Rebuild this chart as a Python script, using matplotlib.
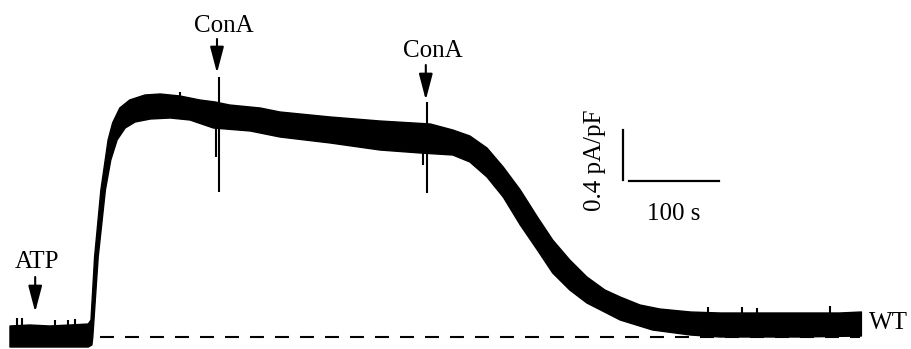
import matplotlib
matplotlib.use("Agg")
import matplotlib.pyplot as plt

plt.rcParams['font.family'] = ['Liberation Serif', 'DejaVu Serif']

# whole-cell current trace, WT cell (time in s, current density in pA/pF)
# noise band drawn as an envelope: upper edge and lower edge
upper_t = [0, 22, 44, 67, 87, 90, 94, 101, 109, 114, 122, 133, 150, 167, 189, 211,
           228, 244, 278, 300, 356, 411, 467, 492, 511, 530, 548, 567, 586, 603,
           622, 641, 661, 678, 700, 722, 756, 789, 833, 878, 922, 946]
upper_i = [0.088, 0.096, 0.088, 0.096, 0.104, 0.136, 0.64, 1.176, 1.576, 1.712,
           1.832, 1.896, 1.936, 1.944, 1.928, 1.896, 1.88, 1.856, 1.832, 1.8, 1.76,
           1.728, 1.704, 1.656, 1.608, 1.512, 1.36, 1.176, 0.96, 0.776, 0.616, 0.48,
           0.376, 0.32, 0.256, 0.224, 0.2, 0.192, 0.192, 0.192, 0.192, 0.2]
lower_t = [0, 87, 91, 92, 98, 106, 112, 119, 128, 139, 156, 178, 200, 226, 267,
           300, 356, 411, 456, 492, 511, 530, 548, 567, 586, 603, 622, 641, 678,
           714, 756, 789, 878, 946]
lower_i = [-0.08, -0.08, -0.064, 0.0, 0.64, 1.176, 1.416, 1.576, 1.672, 1.72, 1.744,
           1.752, 1.736, 1.672, 1.648, 1.6, 1.552, 1.496, 1.472, 1.456, 1.4, 1.28,
           1.12, 0.896, 0.696, 0.512, 0.376, 0.272, 0.136, 0.056, 0.016, 0.0, 0.0,
           0.008]

# transient spikes (time, low, high)
spike_t = [8, 13, 50, 64, 72, 189, 229, 232, 459, 463, 776, 813, 830, 911]
spike_lo = [0.06, 0.06, 0.06, 0.06, 0.06, 1.88, 1.44, 1.16, 1.376, 1.152, 0.16, 0.16, 0.16, 0.16]
spike_hi = [0.152, 0.152, 0.136, 0.136, 0.144, 1.96, 1.816, 2.08, 1.656, 1.88, 0.24, 0.24, 0.232, 0.248]

# drug applications: label, arrow time, arrow tail, arrow tip, label baseline
app_labels = ['ATP', 'ConA', 'ConA']
app_t = [28, 230, 462]
app_tail = [0.48, 2.384, 2.176]
app_tip = [0.2, 2.112, 1.896]
app_text_t = [30, 238, 470]
app_text_i = [0.552, 2.44, 2.24]

# scale bars
bar_t0, bar_i0 = 681, 1.256
bar_dt, bar_di = 100, 0.4

fig = plt.figure(figsize=(9.11, 3.49), dpi=100)
ax = fig.add_axes([0, 0, 1, 1])
ax.set_xlim(-11.1, 1001.1)
ax.set_ylim(-0.096, 2.696)
ax.axis('off')

# zero-current level
ax.plot([100, 944], [0, 0], color='black', lw=1.5, dashes=(6.7, 5.3))

# trace band
poly_t = upper_t + lower_t[::-1]
poly_i = upper_i + lower_i[::-1]
ax.fill(poly_t, poly_i, color='black', lw=1.0, joinstyle='round')
ax.vlines(spike_t, spike_lo, spike_hi, color='black', lw=1.5)

for lab, t, tail, tip, tt, ti in zip(app_labels, app_t, app_tail, app_tip, app_text_t, app_text_i):
    ax.annotate('', xy=(t, tip), xytext=(t, tail),
                arrowprops=dict(arrowstyle='-|>,head_length=1.6,head_width=0.42',
                                color='black', lw=1.5, shrinkA=0, shrinkB=0))
    ax.text(tt, ti, lab, fontsize=18, ha='center', va='baseline')

# scale bars
ax.plot([bar_t0, bar_t0], [bar_i0, bar_i0 + bar_di], color='black', lw=1.6)
ax.plot([bar_t0 + 7, bar_t0 + 7 + bar_dt], [bar_i0 - 0.008, bar_i0 - 0.008], color='black', lw=1.6)
ax.text(737, 0.936, '100 s', fontsize=18, ha='center', va='baseline')
ax.text(650, 1.416, '0.4 pA/pF', fontsize=18, ha='center', va='center', rotation=90)

ax.text(954, 0.064, 'WT', fontsize=18, ha='left', va='baseline')

fig.savefig('out.png', dpi=100)
